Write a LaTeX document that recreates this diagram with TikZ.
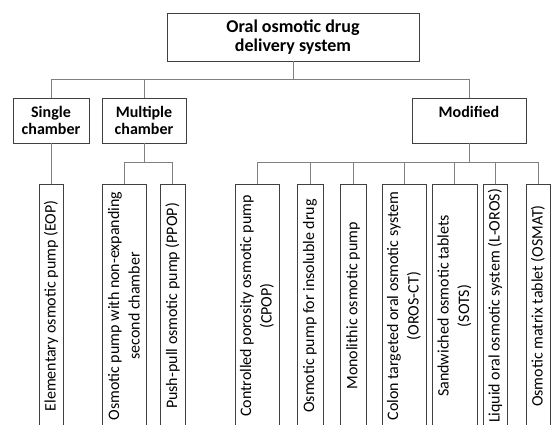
\documentclass[tikz,border=0pt]{standalone}
\usepackage{fontspec}
\setmainfont{Carlito}
\usetikzlibrary{positioning}

\begin{document}
\begin{tikzpicture}[x=1pt, y=-1pt,
    box/.style={draw=black!75, line width=0.8pt, inner sep=1pt, align=center},
    titlebox/.style={box, minimum width=252pt, minimum height=48pt, font=\fontsize{18}{19}\selectfont\bfseries},
    headbox/.style={box, minimum height=45pt, font=\fontsize{16}{17.5}\selectfont\bfseries},
    leafbox/.style={box, rotate=90, minimum width=244pt, font=\fontsize{16}{20.5}\selectfont},
    link/.style={draw=black!50, line width=0.8pt}
]

% Canvas: 552 x 425, y grows downwards
\useasboundingbox (0,0) rectangle (552,425);
\clip (0,0) rectangle (552,425);

% Root
\node[titlebox] (root) at (293,37) {Oral osmotic drug\\delivery system};

% Main classes
\node[headbox, minimum width=76pt] (single) at (51,120.5) {Single\\chamber};
\node[headbox, minimum width=84pt] (multi) at (144,120.5) {Multiple\\chamber};
\node[headbox, minimum width=114pt] (modif) at (469,120.5) {Modified\\~};

% Leaves (rotated, running off the bottom edge)
\node[leafbox, minimum height=24pt] (eop) at (51,306) {Elementary osmotic pump (EOP)};
\node[leafbox, minimum height=44pt] (nonexp) at (124,306) {Osmotic pump with non-expanding\\second chamber};
\node[leafbox, minimum height=25pt] (ppop) at (172.5,306) {Push-pull osmotic pump (PPOP)};
\node[leafbox, minimum height=44pt] (cpop) at (257,306) {Controlled porosity osmotic pump\\(CPOP)};
\node[leafbox, minimum height=26pt] (insol) at (310,306) {Osmotic pump for insoluble drug};
\node[leafbox, minimum height=26pt] (mono) at (353,306) {Monolithic osmotic pump};
\node[leafbox, minimum height=44pt] (oroct) at (404,306) {Colon targeted oral osmotic system\\(OROS-CT)};
\node[leafbox, minimum height=45pt] (sots) at (454.5,306) {Sandwiched osmotic tablets\\(SOTS)};
\node[leafbox, minimum height=24pt] (loros) at (495,306) {Liquid oral osmotic system (L-OROS)};
\node[leafbox, minimum height=24pt] (osmat) at (538,306) {Osmotic matrix tablet (OSMAT)};

% Root to classes
\draw[link] (root.south) -- ++(0,18) coordinate (rootbus);
\foreach \c in {single,multi,modif}
    \draw[link] (rootbus) -| (\c.north);

% Single chamber
\draw[link] (single.south) -- (eop.east);

% Multiple chamber
\draw[link] (multi.south) -- ++(0,19) coordinate (multibus);
\foreach \c in {nonexp,ppop}
    \draw[link] (multibus) -| (\c.east);

% Modified
\draw[link] (modif.south) -- ++(0,19) coordinate (modbus);
\foreach \c in {cpop,insol,mono,oroct,sots,loros,osmat}
    \draw[link] (modbus) -| (\c.east);

\end{tikzpicture}
\end{document}
